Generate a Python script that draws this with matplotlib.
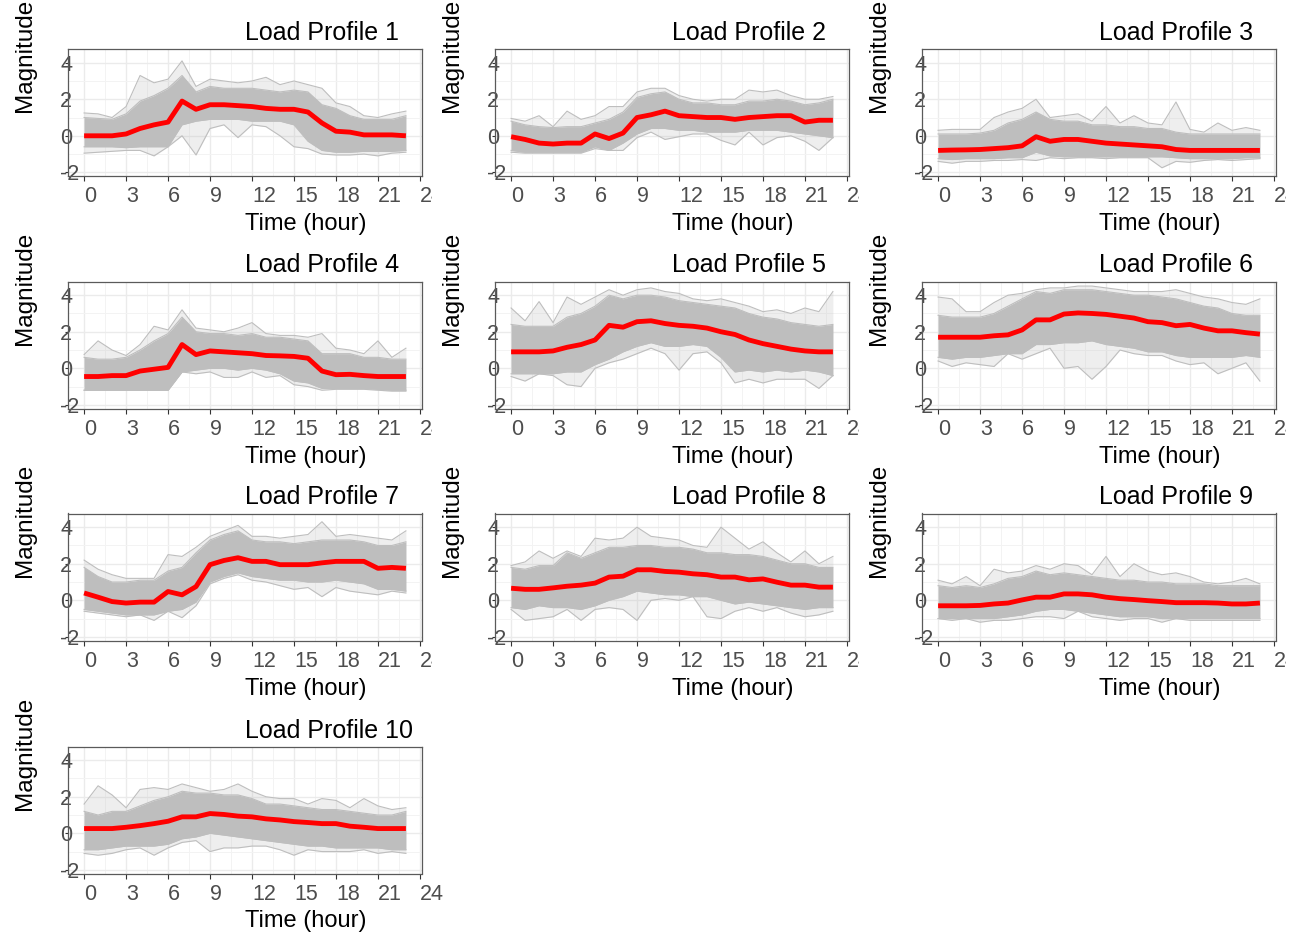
import matplotlib.pyplot as plt
import matplotlib.transforms as mtransforms

plt.rcParams['font.family'] = ['Liberation Sans', 'DejaVu Sans']
plt.rcParams['axes.unicode_minus'] = False

hours = list(range(24))
x_ticks = [0, 3, 6, 9, 12, 15, 18, 21, 24]
x_minor = [1.5, 4.5, 7.5, 10.5, 13.5, 16.5, 19.5, 22.5]
y_ticks = [-2, 0, 2, 4]
y_minor = [-1, 1, 3]

# per profile: mean (red), dense band edges (hi/lo), outermost lines (top/bot)
p1_mean = [0, 0, 0, 0.1, 0.4, 0.6, 0.75, 1.9, 1.45, 1.7, 1.7, 1.65, 1.6, 1.5, 1.45, 1.45, 1.3, 0.7, 0.25, 0.2, 0.05, 0.05, 0.05, 0]
p1_hi = [1.0, 0.95, 0.9, 1.2, 1.9, 2.2, 2.6, 3.3, 2.4, 2.7, 2.6, 2.6, 2.6, 2.5, 2.4, 2.5, 2.4, 1.7, 1.5, 1.1, 0.9, 0.9, 0.9, 1.1]
p1_lo = [-0.6, -0.6, -0.6, -0.65, -0.6, -0.6, -0.6, 0.6, 0.8, 0.9, 0.9, 0.9, 0.8, 0.8, 0.8, 0.6, -0.3, -0.8, -0.9, -0.9, -0.85, -0.85, -0.85, -0.8]
p1_top = [1.25, 1.2, 1.0, 1.6, 3.3, 2.9, 3.1, 4.1, 2.7, 3.1, 3.0, 2.9, 3.0, 3.2, 2.8, 3.0, 2.8, 2.6, 1.8, 1.6, 1.1, 1.0, 1.2, 1.35]
p1_bot = [-0.95, -0.9, -0.85, -0.8, -0.8, -1.1, -0.6, 0.0, -1.05, 0.4, 0.6, -0.1, 0.6, 0.5, 0.0, -0.6, -0.7, -1.0, -1.05, -1.05, -1.0, -1.1, -0.95, -0.9]

p2_mean = [-0.05, -0.2, -0.4, -0.45, -0.4, -0.4, 0.1, -0.15, 0.15, 1.0, 1.15, 1.35, 1.1, 1.05, 1.0, 1.0, 0.9, 1.0, 1.05, 1.1, 1.1, 0.75, 0.85, 0.85]
p2_hi = [0.8, 0.6, 0.5, 0.45, 0.5, 0.5, 0.7, 0.9, 1.3, 2.1, 2.3, 2.4, 2.0, 1.8, 1.8, 1.7, 1.7, 1.9, 1.9, 2.0, 1.9, 1.7, 1.8, 2.0]
p2_lo = [-0.8, -0.9, -0.9, -0.9, -0.9, -0.9, -0.6, -0.8, -0.4, 0.1, 0.4, 0.4, 0.3, 0.3, 0.2, 0.2, 0.2, 0.3, 0.3, 0.3, 0.2, 0.1, 0.0, -0.1]
p2_top = [0.95, 0.8, 1.1, 0.5, 1.35, 0.9, 1.1, 1.6, 1.6, 2.4, 2.6, 2.6, 2.2, 2.0, 1.9, 2.0, 2.0, 2.5, 2.4, 2.5, 2.2, 2.0, 2.0, 2.15]
p2_bot = [-0.9, -0.95, -0.95, -0.95, -0.95, -0.95, -0.7, -0.8, -0.8, -0.1, 0.2, -0.2, -0.05, 0.1, 0.1, -0.25, -0.5, 0.2, -0.5, -0.1, 0.0, -0.3, -0.8, -0.1]

p3_mean = [-0.8, -0.78, -0.77, -0.75, -0.7, -0.65, -0.55, -0.05, -0.3, -0.2, -0.2, -0.3, -0.4, -0.45, -0.5, -0.55, -0.6, -0.75, -0.8, -0.8, -0.8, -0.8, -0.8, -0.8]
p3_hi = [0.1, 0.1, 0.1, 0.15, 0.3, 0.7, 0.9, 1.3, 0.9, 0.8, 0.8, 0.6, 0.6, 0.5, 0.5, 0.4, 0.4, 0.2, 0.1, 0.1, 0.1, 0.1, 0.1, 0.1]
p3_lo = [-1.25, -1.3, -1.25, -1.25, -1.25, -1.2, -1.2, -0.9, -1.1, -1.15, -1.15, -1.15, -1.15, -1.15, -1.15, -1.15, -1.15, -1.2, -1.25, -1.25, -1.25, -1.25, -1.2, -1.2]
p3_top = [0.3, 0.35, 0.35, 0.35, 1.0, 1.3, 1.5, 2.0, 1.0, 1.1, 1.2, 0.8, 1.6, 0.7, 1.1, 0.7, 0.6, 1.85, 0.35, 0.2, 0.7, 0.3, 0.45, 0.3]
p3_bot = [-1.4, -1.5, -1.4, -1.4, -1.35, -1.35, -1.3, -1.35, -1.2, -1.25, -1.2, -1.2, -1.25, -1.2, -1.2, -1.2, -1.75, -1.4, -1.45, -1.35, -1.3, -1.35, -1.3, -1.25]

p4_mean = [-0.45, -0.45, -0.4, -0.4, -0.15, -0.05, 0.05, 1.3, 0.75, 0.95, 0.9, 0.85, 0.8, 0.7, 0.68, 0.65, 0.55, -0.15, -0.35, -0.33, -0.4, -0.45, -0.45, -0.45]
p4_hi = [0.6, 0.5, 0.5, 0.6, 1.0, 1.5, 1.9, 2.8, 2.0, 1.9, 1.9, 1.8, 1.9, 1.7, 1.7, 1.6, 1.5, 0.8, 0.8, 0.8, 0.6, 0.6, 0.5, 0.5]
p4_lo = [-1.2, -1.2, -1.2, -1.2, -1.2, -1.2, -1.2, -0.2, -0.1, 0.0, 0.0, -0.1, 0.0, -0.1, -0.3, -0.7, -0.8, -1.1, -1.1, -1.1, -1.1, -1.15, -1.2, -1.2]
p4_top = [0.75, 1.5, 1.0, 0.7, 1.3, 2.3, 2.1, 3.2, 2.2, 2.1, 2.0, 2.2, 2.5, 1.9, 1.8, 1.8, 1.7, 1.9, 1.1, 1.0, 0.8, 1.5, 0.6, 1.1]
p4_bot = [-1.2, -1.2, -1.2, -1.2, -1.2, -1.2, -1.2, -0.2, -0.3, -0.2, -0.5, -0.5, -0.2, -0.5, -0.4, -0.9, -1.0, -1.2, -1.15, -1.15, -1.15, -1.2, -1.25, -1.25]

p5_mean = [0.9, 0.9, 0.9, 0.95, 1.15, 1.3, 1.55, 2.35, 2.25, 2.55, 2.6, 2.45, 2.35, 2.3, 2.2, 2.0, 1.85, 1.55, 1.35, 1.2, 1.05, 0.95, 0.9, 0.9]
p5_hi = [2.4, 2.3, 2.3, 2.3, 2.8, 3.0, 3.4, 4.0, 3.8, 4.0, 4.0, 3.9, 3.7, 3.6, 3.5, 3.4, 3.3, 3.0, 2.8, 2.7, 2.5, 2.4, 2.3, 2.4]
p5_lo = [-0.3, -0.3, -0.3, -0.3, -0.2, -0.2, 0.2, 0.5, 0.9, 1.2, 1.4, 1.2, 1.2, 1.3, 1.2, 0.6, -0.2, -0.1, -0.2, -0.1, -0.2, -0.1, -0.2, -0.4]
p5_top = [3.3, 2.6, 3.65, 2.5, 3.9, 3.5, 3.9, 4.3, 4.0, 4.3, 4.4, 4.2, 4.1, 3.8, 3.7, 3.8, 3.6, 3.4, 3.1, 3.2, 3.0, 3.3, 3.1, 4.2]
p5_bot = [-0.45, -0.7, -0.3, -0.4, -0.9, -1.0, 0.0, 0.3, 0.5, 0.8, 1.1, 0.8, -0.1, 0.8, 0.9, 0.3, -0.8, -0.6, -0.8, -0.6, -0.6, -0.6, -1.1, -0.4]

p6_mean = [1.7, 1.7, 1.7, 1.7, 1.78, 1.83, 2.1, 2.65, 2.65, 2.97, 3.03, 3.0, 2.95, 2.85, 2.75, 2.55, 2.5, 2.33, 2.4, 2.2, 2.05, 2.05, 1.95, 1.87]
p6_hi = [2.9, 2.8, 2.8, 2.8, 3.0, 3.4, 3.8, 4.2, 4.1, 4.3, 4.3, 4.3, 4.2, 4.1, 4.0, 4.0, 3.9, 3.8, 3.6, 3.4, 3.3, 3.0, 2.9, 2.9]
p6_lo = [0.6, 0.5, 0.6, 0.6, 0.7, 0.8, 0.8, 1.3, 1.3, 1.4, 1.4, 1.5, 1.3, 1.2, 1.1, 0.9, 0.9, 0.7, 0.6, 0.6, 0.6, 0.6, 0.7, 0.6]
p6_top = [3.9, 3.8, 3.1, 3.1, 3.6, 4.0, 4.1, 4.3, 4.4, 4.4, 4.5, 4.5, 4.4, 4.3, 4.2, 4.2, 4.2, 4.3, 4.1, 3.9, 3.8, 3.6, 3.5, 3.8]
p6_bot = [0.4, 0.1, 0.3, 0.2, 0.1, 0.8, 0.5, 0.8, 1.1, 0.0, 0.1, -0.6, 0.1, 1.0, 0.8, 0.7, 0.7, 0.4, 0.2, 0.3, -0.3, 0.0, 0.3, -0.7]

p7_mean = [0.4, 0.17, -0.07, -0.15, -0.1, -0.1, 0.48, 0.3, 0.75, 1.95, 2.18, 2.33, 2.13, 2.13, 1.95, 1.95, 1.95, 2.05, 2.13, 2.13, 2.13, 1.75, 1.8, 1.75]
p7_hi = [1.8, 1.3, 1.0, 1.0, 1.1, 1.1, 1.6, 1.8, 2.6, 3.3, 3.6, 3.8, 3.3, 3.2, 3.2, 3.1, 3.2, 3.3, 3.3, 3.3, 3.2, 3.0, 3.0, 3.2]
p7_lo = [-0.5, -0.6, -0.7, -0.8, -0.8, -0.8, -0.6, -0.5, -0.1, 1.0, 1.3, 1.5, 1.3, 1.2, 1.1, 1.1, 1.0, 1.0, 1.1, 1.0, 0.9, 0.6, 0.6, 0.5]
p7_top = [2.2, 1.7, 1.4, 1.2, 1.2, 1.2, 2.5, 2.4, 2.9, 3.5, 3.8, 4.1, 3.5, 3.5, 3.4, 3.5, 3.6, 4.3, 3.5, 3.6, 3.5, 3.4, 3.3, 3.8]
p7_bot = [-0.6, -0.7, -0.8, -0.9, -0.8, -1.1, -0.6, -0.95, -0.3, 0.9, 1.2, 1.4, 1.1, 1.0, 0.8, 0.6, 0.7, 0.2, 0.7, 0.5, 0.4, 0.3, 0.5, 0.4]

p8_mean = [0.66, 0.6, 0.6, 0.68, 0.77, 0.83, 0.94, 1.27, 1.32, 1.67, 1.67, 1.58, 1.54, 1.45, 1.4, 1.27, 1.27, 1.12, 1.17, 0.99, 0.83, 0.83, 0.72, 0.72]
p8_hi = [1.8, 1.7, 1.9, 1.9, 2.6, 2.3, 2.6, 2.9, 2.9, 3.0, 3.0, 2.9, 2.9, 2.8, 2.6, 2.6, 2.5, 2.5, 2.4, 2.2, 2.0, 2.0, 1.8, 1.8]
p8_lo = [-0.4, -0.5, -0.3, -0.4, -0.4, -0.5, -0.3, 0.0, 0.2, 0.5, 0.4, 0.3, 0.3, 0.2, 0.2, 0.0, -0.2, -0.1, -0.2, -0.3, -0.4, -0.5, -0.4, -0.4]
p8_top = [1.9, 2.1, 2.7, 2.3, 2.7, 2.4, 3.4, 3.3, 3.4, 4.0, 3.5, 3.4, 3.3, 3.0, 2.9, 4.0, 3.4, 2.8, 3.2, 2.6, 2.1, 2.7, 2.0, 2.4]
p8_bot = [-0.5, -1.1, -1.0, -0.9, -0.5, -1.1, -0.5, -0.4, -0.5, -1.1, 0.0, 0.1, 0.0, 0.2, -0.9, -1.0, -0.6, -0.4, -0.6, -0.4, -0.7, -0.9, -0.8, -0.6]

p9_mean = [-0.3, -0.3, -0.3, -0.28, -0.2, -0.15, 0.02, 0.17, 0.17, 0.35, 0.35, 0.3, 0.17, 0.09, 0.04, -0.02, -0.07, -0.13, -0.13, -0.13, -0.15, -0.2, -0.2, -0.15]
p9_hi = [0.8, 0.7, 0.8, 0.7, 0.9, 1.2, 1.3, 1.6, 1.4, 1.5, 1.4, 1.3, 1.2, 1.1, 1.1, 1.0, 1.0, 0.9, 0.9, 0.9, 0.8, 0.8, 0.8, 0.8]
p9_lo = [-1.0, -1.0, -1.0, -1.0, -1.0, -0.9, -0.8, -0.6, -0.5, -0.5, -0.6, -0.7, -0.8, -0.9, -0.9, -0.9, -1.0, -1.0, -1.0, -1.0, -1.0, -1.0, -1.0, -1.0]
p9_top = [1.1, 0.9, 1.3, 0.8, 1.7, 1.5, 1.6, 1.9, 1.7, 2.0, 1.9, 1.4, 2.4, 1.3, 2.0, 1.6, 1.4, 1.5, 1.3, 1.0, 0.9, 1.0, 1.2, 0.9]
p9_bot = [-1.0, -1.1, -1.0, -1.2, -1.1, -1.1, -1.0, -0.9, -0.9, -1.0, -0.6, -0.9, -1.0, -1.1, -1.0, -1.0, -1.2, -1.0, -1.1, -1.1, -1.1, -1.1, -1.1, -1.1]

p10_mean = [0.26, 0.26, 0.26, 0.33, 0.42, 0.53, 0.66, 0.9, 0.9, 1.08, 1.03, 0.94, 0.9, 0.79, 0.73, 0.64, 0.59, 0.53, 0.53, 0.39, 0.33, 0.26, 0.26, 0.26]
p10_hi = [1.2, 1.0, 1.2, 1.2, 1.5, 1.8, 2.0, 2.3, 2.2, 2.2, 2.1, 2.1, 1.9, 1.6, 1.6, 1.5, 1.4, 1.3, 1.3, 1.2, 1.1, 1.0, 1.0, 1.2]
p10_lo = [-0.9, -0.9, -0.8, -0.7, -0.7, -0.7, -0.6, -0.3, -0.2, 0.0, -0.1, -0.2, -0.3, -0.4, -0.5, -0.6, -0.7, -0.7, -0.8, -0.8, -0.8, -0.8, -0.9, -0.9]
p10_top = [1.6, 2.6, 2.1, 1.4, 2.4, 2.5, 2.4, 2.7, 2.5, 2.3, 2.4, 2.7, 2.3, 2.0, 1.9, 1.9, 1.6, 1.9, 1.8, 1.4, 1.9, 1.5, 1.3, 1.4]
p10_bot = [-1.1, -1.2, -1.1, -0.9, -0.8, -1.2, -0.8, -0.5, -0.4, -1.0, -0.8, -0.8, -0.7, -0.7, -0.9, -1.2, -0.9, -1.0, -1.0, -1.0, -0.9, -1.1, -1.0, -1.1]

profiles = [
    (p1_mean, p1_hi, p1_lo, p1_top, p1_bot),
    (p2_mean, p2_hi, p2_lo, p2_top, p2_bot),
    (p3_mean, p3_hi, p3_lo, p3_top, p3_bot),
    (p4_mean, p4_hi, p4_lo, p4_top, p4_bot),
    (p5_mean, p5_hi, p5_lo, p5_top, p5_bot),
    (p6_mean, p6_hi, p6_lo, p6_top, p6_bot),
    (p7_mean, p7_hi, p7_lo, p7_top, p7_bot),
    (p8_mean, p8_hi, p8_lo, p8_top, p8_bot),
    (p9_mean, p9_hi, p9_lo, p9_top, p9_bot),
    (p10_mean, p10_hi, p10_lo, p10_top, p10_bot),
]

FW, FH = 1301, 934
fig = plt.figure(figsize=(FW / 100, FH / 100), dpi=100)

# panel placement in pixels (grid of 3 columns)
col_left = [68, 495, 922]
row_top = [49, 281.5, 513.5, 746.5]
pw, ph = 354, 127

grey = '#bebebe'

for i, (mean, hi, lo, top, bot) in enumerate(profiles):
    r, c = divmod(i, 3)
    ax = fig.add_axes([col_left[c] / FW, 1 - (row_top[r] + ph) / FH, pw / FW, ph / FH])

    # sparse lines region, then the dense core of the gray curves
    ax.fill_between(hours, bot, top, color=grey, alpha=0.25, lw=0, zorder=2)
    ax.fill_between(hours, lo, hi, color=grey, lw=0, zorder=2)
    ax.plot(hours, hi, color=grey, lw=0.8, zorder=2)
    ax.plot(hours, lo, color=grey, lw=0.8, zorder=2)
    ax.plot(hours, top, color=grey, lw=0.8, zorder=2)
    ax.plot(hours, bot, color=grey, lw=0.8, zorder=2)
    ax.plot(hours, mean, color='red', lw=3.5, zorder=3, solid_joinstyle='round', solid_capstyle='butt')

    ax.set_xlim(-1.15, 24.15)
    ax.set_ylim(-2.2, 4.75)
    ax.set_xticks(x_ticks)
    ax.set_xticklabels([str(h) for h in x_ticks])
    ax.set_xticks(x_minor, minor=True)
    ax.set_yticks(y_ticks)
    ax.set_yticklabels([str(v) for v in y_ticks])
    ax.set_yticks(y_minor, minor=True)
    ax.set_axisbelow(True)
    ax.grid(which='major', color='#ebebeb', lw=1.0, zorder=0)
    ax.grid(which='minor', color='#f3f3f3', lw=0.7, zorder=0)

    ax.tick_params(axis='x', which='major', length=3.5, width=0.8, color='#333333',
                   labelsize=15.5, labelcolor='#4d4d4d', pad=4)
    ax.tick_params(axis='y', which='major', length=2.5, width=0.8, color='#333333',
                   labelsize=15.5, labelcolor='#4d4d4d', pad=3)
    ax.tick_params(which='minor', length=0)
    plt.setp(ax.get_xticklabels(), ha='left')
    plt.setp(ax.get_yticklabels(), ha='left')

    for s in ax.spines.values():
        s.set_color('#5a5a5a')
        s.set_linewidth(0.9)

    # the "4" of the last tick label is hidden except on the bottom panel
    if i < 9:
        clip = mtransforms.TransformedBbox(
            mtransforms.Bbox([[-5, -3], [24.86, 3]]),
            mtransforms.blended_transform_factory(ax.transData, ax.transAxes))
        for lbl in ax.get_xticklabels():
            lbl.set_clip_box(clip)
            lbl.set_clip_on(True)

    ax.text(0.5, (ph + 9) / ph, f'Load Profile {i + 1}', transform=ax.transAxes,
            ha='left', va='baseline', fontsize=18, color='black')
    ax.text(0.5, -54 / ph, 'Time (hour)', transform=ax.transAxes,
            ha='left', va='baseline', fontsize=17, color='black')
    ax.text(-0.105, 0.5, 'Magnitude', transform=ax.transAxes, rotation=90,
            rotation_mode='anchor', ha='left', va='baseline', fontsize=17.5, color='black')

fig.savefig('out.png', dpi=100)
